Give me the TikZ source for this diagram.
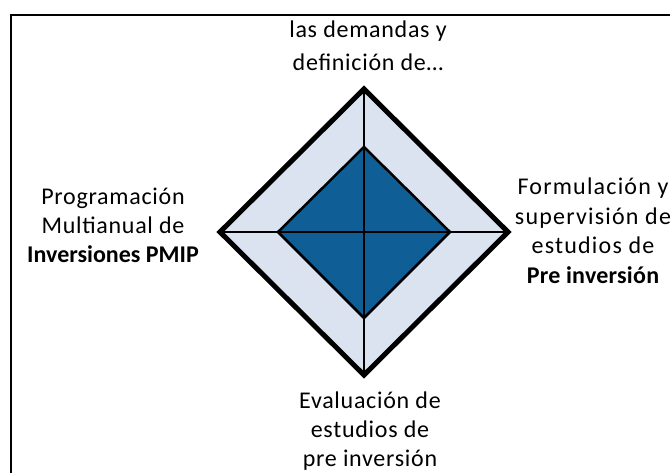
\documentclass[tikz,border=0pt]{standalone}
\usepackage{fontspec}
\setmainfont{Carlito}
\definecolor{lightfill}{HTML}{DCE3F0}
\definecolor{darkfill}{HTML}{0F5E96}
\begin{document}
\begin{tikzpicture}[x=1pt,y=-1pt,
  lbl/.style={inner sep=0pt, align=center, font=\fontsize{24}{29}\selectfont\addfontfeature{LetterSpace=3}},
  outerd/.style={draw=black, line width=5pt, line join=miter, fill=lightfill},
  innerd/.style={draw=black, line width=2.5pt, line join=miter, fill=darkfill},
  axis/.style={draw=black, line width=2pt},
  frame/.style={draw=black, line width=2.5pt}]
\useasboundingbox (0,0) rectangle (670,473);
\fill[white] (0,0) rectangle (670,473);
% frame (only left and top edges visible)
\coordinate (fbl) at (11,480);
\coordinate (ftl) at (11,15);
\coordinate (ftr) at (680,15);
\draw[frame] (fbl) -- (ftl) -- (ftr);
% diamond corners
\coordinate (ot) at (364,89);
\coordinate (ol) at (220,232);
\coordinate (or) at (508,232);
\coordinate (ob) at (364,375);
\coordinate (it) at (364,147);
\coordinate (il) at (278,232);
\coordinate (ir) at (450,232);
\coordinate (ib) at (364,318);
\path[outerd] (ot) -- (or) -- (ob) -- (ol) -- cycle;
\path[innerd] (it) -- (ir) -- (ib) -- (il) -- cycle;
\draw[axis] (ot) -- (ob);
\draw[axis] (ol) -- (or);
% labels
\node[lbl, font=\fontsize{24}{33}\selectfont\addfontfeature{LetterSpace=3}] (top) at (368,46) {las demandas  y\\definici\'on de\dots};
\node[lbl] (left) at (113,225) {Programaci\'on\\Multianual  de\\{\bfseries\addfontfeature{LetterSpace=0}Inversiones PMIP}};
\node[lbl, font=\fontsize{24}{29.5}\selectfont\addfontfeature{LetterSpace=5}] (right) at (593,231) {Formulaci\'on  y\\supervisi\'on  de\\estudios  de\\{\bfseries\addfontfeature{LetterSpace=1}Pre inversi\'on}};
\node[lbl] (bottom) at (370,431) {Evaluaci\'on de\\estudios  de\\pre inversi\'on};
\end{tikzpicture}
\end{document}
